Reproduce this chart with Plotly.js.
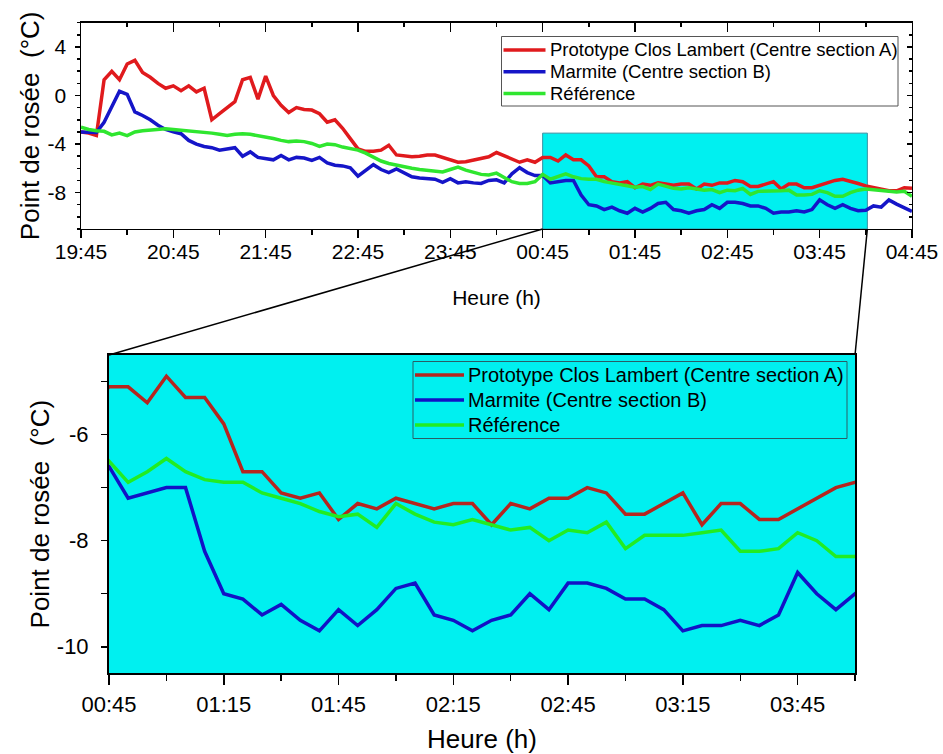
<!DOCTYPE html>
<html>
<head>
<meta charset="utf-8">
<script src="https://cdn.plot.ly/plotly-3.0.1.min.js"></script>
<style>
  html, body { margin: 0; padding: 0; background: #ffffff; }
  #chart { width: 943px; height: 754px; }
</style>
</head>
<body>
<div id="chart"></div>
<script>
// Dew point (°C), one reading every 5 minutes from 19:45 to 04:45
const firstReading = '2000-01-01 19:45';
const stepMinutes = 5;

const seriesNames = [
  'Prototype Clos Lambert (Centre section A)',
  'Marmite (Centre section B)',
  'Référence'
];

const prototypeA = [
  -3.0, -3.1, -3.3, 1.3, 2.0, 1.3, 2.6, 2.9, 1.9, 1.5,
  1.0, 0.6, 0.8, 0.4, 0.8, 0.3, 0.6, -2.0, -1.5, -1.0,
  -0.5, 1.3, 1.5, -0.3, 1.6, 0.0, -0.8, -1.4, -1.0, -1.15,
  -1.2, -1.5, -2.2, -2.0, -2.7, -3.55, -4.4, -4.6, -4.6, -4.5,
  -4.1, -4.9, -5.0, -5.05, -5.0, -4.9, -4.9, -5.1, -5.3, -5.5,
  -5.45, -5.3, -5.15, -5.05, -4.7, -4.95, -5.2, -5.5, -5.3, -5.5,
  -5.1, -5.1, -5.4, -4.9, -5.3, -5.3, -5.8, -6.7, -6.7, -7.1,
  -7.2, -7.1, -7.6, -7.3, -7.4, -7.2, -7.3, -7.4, -7.3, -7.3,
  -7.7, -7.3, -7.4, -7.2, -7.2, -7.0, -7.1, -7.5, -7.5, -7.3,
  -7.1, -7.7, -7.3, -7.3, -7.6, -7.6, -7.4, -7.2, -7.0, -6.9,
  -7.05, -7.25, -7.45, -7.6, -7.75, -7.85, -7.85, -7.6, -7.65
];

const marmiteB = [
  -3.0, -3.0, -3.05, -2.2, -0.85, 0.35, 0.1, -1.35, -1.65, -2.0,
  -2.45, -2.8, -3.0, -3.15, -3.7, -4.0, -4.2, -4.3, -4.5, -4.4,
  -4.3, -5.0, -4.65, -5.1, -5.2, -5.3, -4.95, -5.3, -5.1, -5.15,
  -5.35, -5.1, -5.55, -5.75, -5.8, -5.95, -6.65, -6.15, -5.7, -6.1,
  -6.35, -6.05, -6.35, -6.7, -6.8, -6.85, -6.9, -7.15, -6.85, -7.2,
  -7.1, -7.2, -7.25, -7.0, -6.95, -7.2, -6.45, -5.95, -6.35, -6.6,
  -6.6, -7.2, -7.1, -7.0, -7.0, -8.2, -9.0, -9.1, -9.4, -9.2,
  -9.5, -9.7, -9.3, -9.6, -9.3, -8.9, -8.8, -9.4, -9.5, -9.7,
  -9.5, -9.4, -9.0, -9.3, -8.8, -8.8, -8.9, -9.1, -9.1, -9.3,
  -9.7, -9.6, -9.6, -9.5, -9.6, -9.4, -8.6, -9.0, -9.3, -9.0,
  -9.3, -9.5, -9.45, -9.1, -9.2, -8.6, -8.95, -9.25, -9.55
];

const reference = [
  -2.6, -2.8, -2.9, -2.95, -3.25, -3.1, -3.3, -3.0, -2.9, -2.85,
  -2.75, -2.75, -2.8, -2.85, -2.9, -2.95, -3.0, -3.1, -3.2, -3.3,
  -3.2, -3.15, -3.2, -3.3, -3.45, -3.55, -3.7, -3.8, -3.75, -3.8,
  -3.95, -4.2, -4.0, -4.05, -4.25, -4.4, -4.5, -4.75, -5.1, -5.4,
  -5.6, -5.75, -5.85, -6.0, -6.1, -6.15, -6.2, -6.3, -6.1, -5.9,
  -6.15, -6.35, -6.5, -6.55, -6.4, -6.75, -7.1, -7.25, -7.25, -7.1,
  -6.5, -6.9, -6.7, -6.45, -6.7, -6.85, -6.9, -6.9, -7.1, -7.2,
  -7.3, -7.45, -7.55, -7.5, -7.75, -7.3, -7.5, -7.65, -7.7, -7.6,
  -7.7, -7.8, -7.75, -8.0, -7.8, -7.85, -7.65, -8.15, -7.9, -7.9,
  -7.9, -7.85, -7.8, -8.2, -8.2, -8.15, -7.85, -8.0, -8.3, -8.3,
  -8.0, -7.8, -7.7, -7.75, -7.85, -7.9, -7.95, -7.9, -8.3
];

// Axis ticks (values and their printed labels)
const overviewYTicks = [-8, -4, 0, 4];
const overviewYLabels = ['-8', '-4', '0', '4'];
const detailYTicks = [-10, -8, -6];
const detailYLabels = ['-10', '-8', '-6'];

// Time windows
const fullStart = '2000-01-01 19:45';
const fullEnd = '2000-01-02 04:45';
const zoomStart = '2000-01-02 00:45';
const zoomEnd = '2000-01-02 04:00';
const highlightEnd = '2000-01-02 04:16';

const topColors = ['#e01a1d', '#1515c8', '#2fe62f'];
const bottomColors = ['#b5251f', '#1212c6', '#22ec22'];
const zoomFill = '#00f0f0';
const fontFamily = 'Arial, "Liberation Sans", sans-serif';
const W = 943, H = 754;

function toMs(s) {
  const [d, t] = s.split(' ');
  const [Y, M, D] = d.split('-').map(Number);
  const [h, m] = t.split(':').map(Number);
  return Date.UTC(Y, M - 1, D, h, m);
}
function pad2(n) { return String(n).padStart(2, '0'); }
function readingTimes(n) {
  const t0 = toMs(firstReading);
  const out = [];
  for (let j = 0; j < n; j++) {
    const d = new Date(t0 + j * stepMinutes * 60000);
    out.push(d.getUTCFullYear() + '-' + pad2(d.getUTCMonth() + 1) + '-' + pad2(d.getUTCDate()) +
      ' ' + pad2(d.getUTCHours()) + ':' + pad2(d.getUTCMinutes()));
  }
  return out;
}
const times = readingTimes(prototypeA.length);
const seriesValues = [prototypeA, marmiteB, reference];

// Subplot placement (fractions of the figure)
const topX = [0.0859, 0.9671], topY = [0.6963, 0.9699];
const botX = [0.1156, 0.9067], botY = [0.1070, 0.5292];

const traces = [];
seriesValues.forEach((vals, k) => {
  traces.push({
    x: times, y: vals, type: 'scatter', mode: 'lines', name: seriesNames[k],
    xaxis: 'x', yaxis: 'y', showlegend: false,
    line: { color: topColors[k], width: 3.5 }
  });
});
seriesValues.forEach((vals, k) => {
  traces.push({
    x: times, y: vals, type: 'scatter', mode: 'lines', name: seriesNames[k],
    xaxis: 'x2', yaxis: 'y2', showlegend: false,
    line: { color: bottomColors[k], width: 3.5 }
  });
});
// carrier for the inner ticks on the top and right edges of the overview
traces.push({ x: [], y: [], xaxis: 'x3', yaxis: 'y3', showlegend: false, hoverinfo: 'skip' });

const tickFontTop = { family: fontFamily, size: 21, color: '#000' };
const tickFontBot = { family: fontFamily, size: 22, color: '#000' };
const hour = 3600000;

const layout = {
  width: W, height: H,
  margin: { l: 0, r: 0, t: 0, b: 0 },
  paper_bgcolor: '#ffffff',
  plot_bgcolor: 'rgba(0,0,0,0)',
  font: { family: fontFamily, color: '#000' },
  showlegend: false,
  xaxis: {
    domain: topX, anchor: 'y', type: 'date',
    range: [fullStart, fullEnd], tick0: fullStart, dtick: hour, tickformat: '%H:%M',
    ticks: 'outside', ticklen: 8, tickwidth: 1.5, tickcolor: '#000',
    minor: { dtick: hour / 2, tick0: fullStart, ticks: 'outside', ticklen: 4.5, tickwidth: 1.5, tickcolor: '#000' },
    showline: true, linecolor: '#000', linewidth: 1.5, mirror: true,
    showgrid: false, zeroline: false, tickfont: tickFontTop, ticklabelstandoff: -5,
    title: { text: 'Heure (h)', font: { family: fontFamily, size: 21, color: '#000' }, standoff: 28 }
  },
  yaxis: {
    domain: topY, anchor: 'x', range: [-11, 6],
    tickmode: 'array', tickvals: overviewYTicks, ticktext: overviewYLabels,
    ticks: 'outside', ticklen: 5, tickwidth: 1.5, tickcolor: '#000',
    minor: { dtick: 1, tick0: 0, ticks: 'outside', ticklen: 3, tickwidth: 1.5, tickcolor: '#000' },
    showline: true, linecolor: '#000', linewidth: 1.5, mirror: true,
    showgrid: false, zeroline: false, tickfont: tickFontTop, ticklabelstandoff: 4,
    title: { text: 'Point de rosée  (°C)', font: { family: fontFamily, size: 26, color: '#000' }, standoff: 0 }
  },
  xaxis3: {
    overlaying: 'x', anchor: 'y', side: 'top', type: 'date',
    range: [fullStart, fullEnd], tick0: fullStart, dtick: hour,
    ticks: 'inside', ticklen: 9, tickwidth: 1.5, tickcolor: '#000',
    minor: { dtick: hour / 2, tick0: fullStart, ticks: 'inside', ticklen: 4.5, tickwidth: 1.5, tickcolor: '#000' },
    showticklabels: false, showline: false, showgrid: false, zeroline: false
  },
  yaxis3: {
    overlaying: 'y', anchor: 'x', side: 'right', range: [-11, 6],
    tickmode: 'array', tickvals: overviewYTicks,
    ticks: 'inside', ticklen: 5, tickwidth: 1.5, tickcolor: '#000',
    minor: { dtick: 1, tick0: 0, ticks: 'inside', ticklen: 3, tickwidth: 1.5, tickcolor: '#000' },
    showticklabels: false, showline: false, showgrid: false, zeroline: false
  },
  xaxis2: {
    domain: botX, anchor: 'y2', type: 'date',
    range: [zoomStart, zoomEnd], tick0: zoomStart, dtick: hour / 2, tickformat: '%H:%M',
    ticks: 'outside', ticklen: 10, tickwidth: 1.5, tickcolor: '#000',
    minor: { dtick: hour / 4, tick0: zoomStart, ticks: 'outside', ticklen: 6, tickwidth: 1.5, tickcolor: '#000' },
    showline: true, linecolor: '#000', linewidth: 2, mirror: true,
    showgrid: false, zeroline: false, tickfont: tickFontBot, ticklabelstandoff: 0,
    title: { text: 'Heure (h)', font: { family: fontFamily, size: 26, color: '#000' }, standoff: 27 }
  },
  yaxis2: {
    domain: botY, anchor: 'x2', range: [-10.5, -4.5],
    tickmode: 'array', tickvals: detailYTicks, ticktext: detailYLabels,
    ticks: 'outside', ticklen: 6, tickwidth: 1.5, tickcolor: '#000',
    minor: { dtick: 1, tick0: 0, ticks: 'outside', ticklen: 6, tickwidth: 1.5, tickcolor: '#000' },
    showline: true, linecolor: '#000', linewidth: 2, mirror: true,
    showgrid: false, zeroline: false, tickfont: tickFontBot, ticklabelstandoff: 8,
    title: { text: 'Point de rosée  (°C)', font: { family: fontFamily, size: 26, color: '#000' }, standoff: 0 }
  },
  shapes: [],
  annotations: []
};

// cyan background of the magnified view
layout.shapes.push({
  type: 'rect', xref: 'x2 domain', yref: 'y2 domain', x0: 0, x1: 1, y0: 0, y1: 1,
  fillcolor: zoomFill, line: { width: 0 }, layer: 'below'
});
// magnified window marked on the overview
layout.shapes.push({
  type: 'rect', xref: 'x', yref: 'y', x0: zoomStart, x1: highlightEnd, y0: -11, y1: -3.1,
  fillcolor: zoomFill, line: { color: '#3a8ea0', width: 1 }, layer: 'below'
});

// connectors from the marked window to the magnified view
const span = toMs(fullEnd) - toMs(fullStart);
const paperOnTop = t => topX[0] + (toMs(t) - toMs(fullStart)) / span * (topX[1] - topX[0]);
[[zoomStart, botX[0]], [highlightEnd, botX[1]]].forEach(([t, xb]) => {
  layout.shapes.push({
    type: 'line', xref: 'paper', yref: 'paper',
    x0: paperOnTop(t), y0: topY[0], x1: xb, y1: botY[1],
    line: { color: '#000', width: 1.5 }
  });
});

// legend boxes (pixel placement on the 943x754 figure)
const px = v => v / W, py = v => 1 - v / H;
function addLegend(box, colors) {
  layout.shapes.push({
    type: 'rect', xref: 'paper', yref: 'paper',
    x0: px(box.left), x1: px(box.right), y0: py(box.bottom), y1: py(box.top),
    fillcolor: box.fill, line: { color: box.border, width: 1 }
  });
  seriesNames.forEach((name, k) => {
    const yRow = box.top + box.firstRow + k * box.rowGap;
    layout.shapes.push({
      type: 'line', xref: 'paper', yref: 'paper',
      x0: px(box.left + 2), x1: px(box.left + 2 + box.sample), y0: py(yRow), y1: py(yRow),
      line: { color: colors[k], width: 3.5 }
    });
    layout.annotations.push({
      xref: 'paper', yref: 'paper', x: px(box.left + box.sample + 5), y: py(yRow),
      xanchor: 'left', yanchor: 'middle', showarrow: false, text: name,
      font: { family: fontFamily, size: box.size, color: '#000' }, borderpad: 0
    });
  });
}
addLegend({ left: 501.5, right: 898, top: 36.5, bottom: 106, firstRow: 13.5, rowGap: 21.7,
            sample: 42, size: 18.5, fill: '#ffffff', border: '#555555' }, topColors);
addLegend({ left: 413, right: 847, top: 361.5, bottom: 438.5, firstRow: 13.5, rowGap: 25,
            sample: 49, size: 20, fill: 'rgba(0,0,0,0)', border: '#2a5e66' }, bottomColors);

Plotly.newPlot('chart', traces, layout, { staticPlot: true, displayModeBar: false });
</script>
</body>
</html>
